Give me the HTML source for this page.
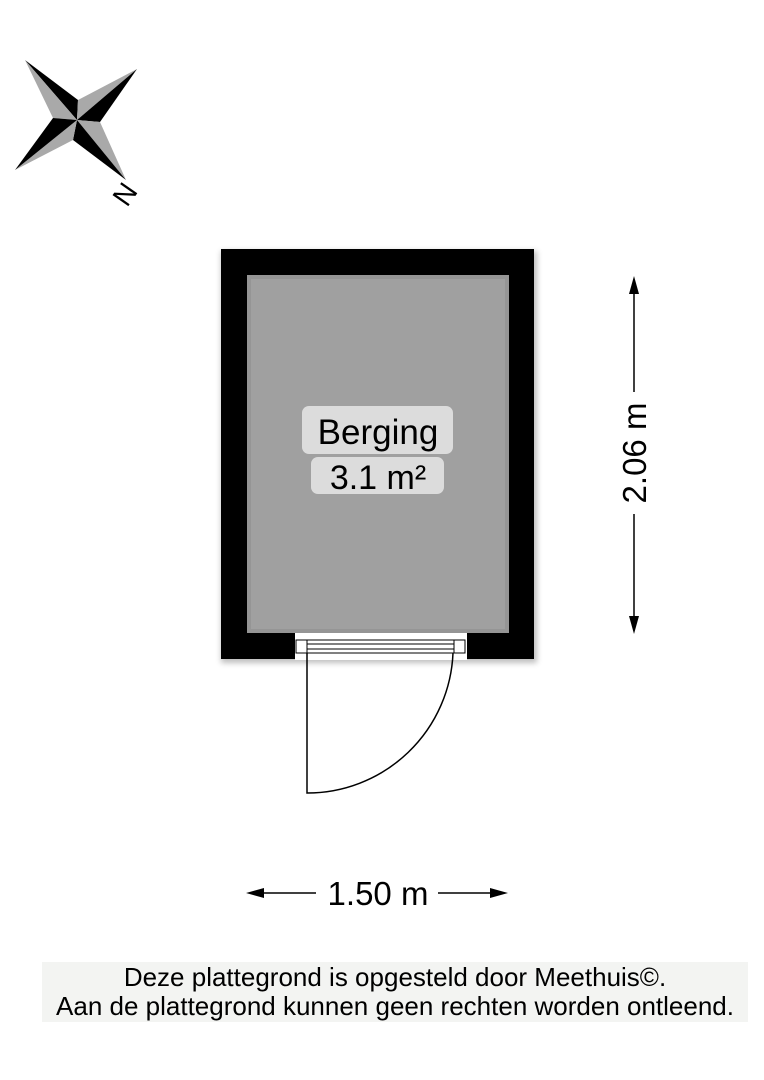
<!DOCTYPE html>
<html><head><meta charset="utf-8"><style>
body{margin:0;background:#fff;width:764px;height:1080px;overflow:hidden;position:relative;font-family:"Liberation Sans",Arial,sans-serif}
</style></head><body>
<svg width="764" height="1080" style="position:absolute;left:0;top:0" font-family="Liberation Sans, Arial, sans-serif">
<defs>
<filter id="sh" x="-10%" y="-10%" width="120%" height="120%"><feGaussianBlur stdDeviation="3"/></filter>
</defs>
<!-- compass -->
<g>
<polygon points="25,60 78,100 77,120" fill="#000"/>
<polygon points="25,60 53,118 77,120" fill="#a9a9a9"/>
<polygon points="137,69 78,100 77,120" fill="#a9a9a9"/>
<polygon points="137,69 100,122 77,120" fill="#000"/>
<polygon points="126,180 100,122 77,120" fill="#a9a9a9"/>
<polygon points="126,180 73,140 77,120" fill="#000"/>
<polygon points="15,170 73,140 77,120" fill="#a9a9a9"/>
<polygon points="15,170 53,118 77,120" fill="#000"/>
<text x="0" y="0" font-size="28" transform="translate(127,208) rotate(-55)" fill="#000">N</text>
</g>
<!-- shadow -->
<rect x="221" y="251" width="316" height="412" fill="#000" opacity="0.25" filter="url(#sh)"/>
<!-- walls -->
<rect x="221" y="249" width="313" height="410" fill="#000"/>
<rect x="247" y="275" width="262" height="358" fill="#a0a0a0"/>
<rect x="249" y="277" width="258" height="354" fill="none" stroke="#8e8e8e" stroke-width="4" opacity="0.6"/>
<!-- door opening -->
<rect x="295" y="633" width="172" height="27" fill="#fff"/>
<rect x="296" y="640" width="11" height="13" fill="#fff" stroke="#000" stroke-width="1"/>
<rect x="454" y="640" width="11" height="13" fill="#fff" stroke="#000" stroke-width="1"/>
<line x1="307" y1="640" x2="454" y2="640" stroke="#000" stroke-width="1"/>
<line x1="307" y1="644" x2="454" y2="644" stroke="#000" stroke-width="1"/>
<line x1="307" y1="649" x2="454" y2="649" stroke="#000" stroke-width="1"/>
<line x1="307" y1="653" x2="454" y2="653" stroke="#000" stroke-width="1"/>
<path d="M307,653 L307,793 A146,146 0 0 0 453,653" fill="none" stroke="#000" stroke-width="1.5"/>
<!-- labels -->
<rect x="302" y="406" width="151" height="48" rx="7" fill="#dcdcdc"/>
<rect x="311" y="457" width="133" height="37" rx="7" fill="#dcdcdc"/>
<text x="378" y="444" font-size="35" text-anchor="middle" fill="#000">Berging</text>
<text x="378" y="489" font-size="34" text-anchor="middle" fill="#000">3.1 m²</text>
<!-- horizontal dim -->
<line x1="256" y1="893" x2="316" y2="893" stroke="#000" stroke-width="1.5"/>
<line x1="438" y1="893" x2="498" y2="893" stroke="#000" stroke-width="1.5"/>
<polygon points="246,893 264,888 264,898" fill="#000"/>
<polygon points="508,893 490,888 490,898" fill="#000"/>
<text x="378" y="905" font-size="33" text-anchor="middle">1.50 m</text>
<!-- vertical dim -->
<line x1="634" y1="286" x2="634" y2="392" stroke="#000" stroke-width="1.5"/>
<line x1="634" y1="514" x2="634" y2="624" stroke="#000" stroke-width="1.5"/>
<polygon points="634,276 629,294 639,294" fill="#000"/>
<polygon points="634,634 629,616 639,616" fill="#000"/>
<text x="0" y="0" font-size="33" text-anchor="middle" transform="translate(646,453) rotate(-90)">2.06 m</text>
<!-- footer -->
<rect x="42" y="962" width="706" height="60" fill="#f3f4f2"/>
<text x="395" y="986" font-size="26" text-anchor="middle">Deze plattegrond is opgesteld door Meethuis©.</text>
<text x="395" y="1015" font-size="26" text-anchor="middle">Aan de plattegrond kunnen geen rechten worden ontleend.</text>
</svg>
</body></html>
